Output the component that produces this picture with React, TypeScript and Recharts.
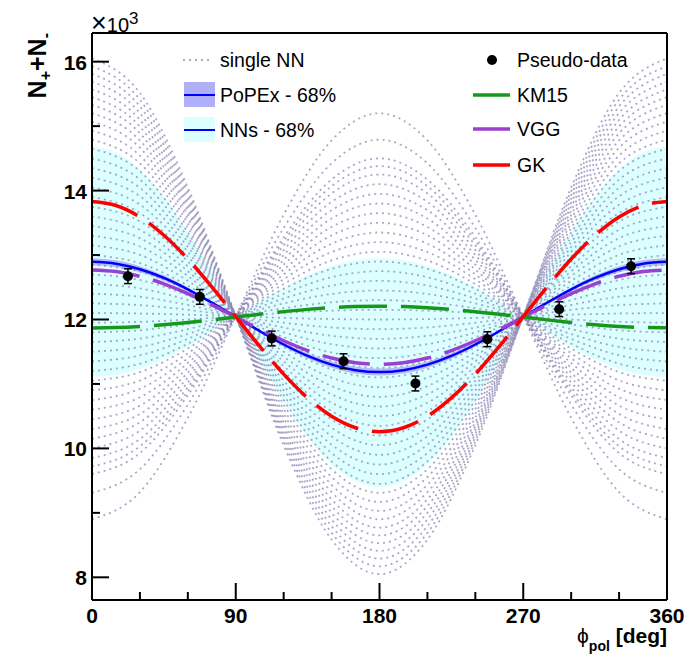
import React from 'react';
import {
  ComposedChart,
  Line,
  Area,
  Scatter,
  ErrorBar,
  XAxis,
  YAxis,
  ReferenceLine,
} from 'recharts';

const FONT = '"Liberation Sans", Arial, Helvetica, sans-serif';

// angle grids
const phiFine = [0, 15, 30, 45, 60, 75, 90, 105, 120, 135, 150, 165, 180, 195, 210, 225, 240, 255, 270, 285, 300, 315, 330, 345, 360];
const phiCoarse = [0, 30, 60, 90, 120, 150, 180, 210, 240, 270, 300, 330, 360];

const xTicks = [0, 30, 60, 90, 120, 150, 180, 210, 240, 270, 300, 330, 360];
const yTicks = [8000, 9000, 10000, 11000, 12000, 13000, 14000, 15000, 16000];
const Y_MIN = 7648;
const Y_MAX = 16445;

// model curves, values on phiFine
const gkValues = [13830, 13769, 13591, 13307, 12938, 12507, 12045, 11583, 11152, 10783, 10499, 10321, 10260, 10321, 10499, 10783, 11152, 11583, 12045, 12507, 12938, 13307, 13591, 13769, 13830];
const vggValues = [12768, 12743, 12670, 12554, 12402, 12226, 12036, 11846, 11670, 11518, 11402, 11329, 11304, 11329, 11402, 11518, 11670, 11846, 12036, 12226, 12402, 12554, 12670, 12743, 12768];
const km15Values = [11870, 11876, 11893, 11919, 11954, 11994, 12038, 12082, 12122, 12157, 12183, 12200, 12206, 12200, 12183, 12157, 12122, 12082, 12038, 11994, 11954, 11919, 11893, 11876, 11870];
const popexValues = [12895, 12866, 12780, 12645, 12468, 12261, 12040, 11819, 11612, 11435, 11300, 11214, 11185, 11214, 11300, 11435, 11612, 11819, 12040, 12261, 12468, 12645, 12780, 12866, 12895];
const popexErr = [55, 53, 48, 40, 30, 18, 8, 18, 30, 40, 48, 53, 55, 53, 48, 40, 30, 18, 8, 18, 30, 40, 48, 53, 55];

// NNs 68% band
const nnBandHigh = [14680, 14591, 14328, 13909, 13365, 12731, 12050, 12283, 12500, 12686, 12829, 12919, 12950, 12919, 12829, 12686, 12500, 12283, 12050, 12731, 13365, 13909, 14328, 14591, 14680];
const nnBandLow = [11110, 11139, 11233, 11383, 11578, 11806, 12050, 11364, 10725, 10176, 9755, 9490, 9400, 9490, 9755, 10176, 10725, 11364, 12050, 11806, 11578, 11383, 11233, 11139, 11110];

// single NN replicas, values on phiCoarse
const nnCurves: number[][] = [
  [16050, 15514, 14050, 12050, 10050, 8586, 8050, 8586, 10050, 12050, 14050, 15514, 16050],
  [15930, 15410, 13990, 12050, 10110, 8690, 8170, 8690, 10110, 12050, 13990, 15410, 15930],
  [15810, 15306, 13930, 12050, 10170, 8794, 8290, 8794, 10170, 12050, 13930, 15306, 15810],
  [15690, 15202, 13870, 12050, 10230, 8898, 8410, 8898, 10230, 12050, 13870, 15202, 15690],
  [15570, 15098, 13810, 12050, 10290, 9002, 8530, 9002, 10290, 12050, 13810, 15098, 15570],
  [15450, 14994, 13750, 12050, 10350, 9106, 8650, 9106, 10350, 12050, 13750, 14994, 15450],
  [15330, 14890, 13690, 12050, 10410, 9210, 8770, 9210, 10410, 12050, 13690, 14890, 15330],
  [15200, 14778, 13625, 12050, 10475, 9322, 8900, 9322, 10475, 12050, 13625, 14778, 15200],
  [15070, 14665, 13560, 12050, 10540, 9435, 9030, 9435, 10540, 12050, 13560, 14665, 15070],
  [14930, 14544, 13490, 12050, 10610, 9556, 9170, 9556, 10610, 12050, 13490, 14544, 14930],
  [14790, 14423, 13420, 12050, 10680, 9677, 9310, 9677, 10680, 12050, 13420, 14423, 14790],
  [14650, 14302, 13350, 12050, 10750, 9798, 9450, 9798, 10750, 12050, 13350, 14302, 14650],
  [14500, 14172, 13275, 12050, 10825, 9928, 9600, 9928, 10825, 12050, 13275, 14172, 14500],
  [14350, 14042, 13200, 12050, 10900, 10058, 9750, 10058, 10900, 12050, 13200, 14042, 14350],
  [14200, 13912, 13125, 12050, 10975, 10188, 9900, 10188, 10975, 12050, 13125, 13912, 14200],
  [14050, 13782, 13050, 12050, 11050, 10318, 10050, 10318, 11050, 12050, 13050, 13782, 14050],
  [13900, 13652, 12975, 12050, 11125, 10448, 10200, 10448, 11125, 12050, 12975, 13652, 13900],
  [13750, 13522, 12900, 12050, 11200, 10578, 10350, 10578, 11200, 12050, 12900, 13522, 13750],
  [13600, 13392, 12825, 12050, 11275, 10708, 10500, 10708, 11275, 12050, 12825, 13392, 13600],
  [13450, 13262, 12750, 12050, 11350, 10838, 10650, 10838, 11350, 12050, 12750, 13262, 13450],
  [13300, 13133, 12675, 12050, 11425, 10967, 10800, 10967, 11425, 12050, 12675, 13133, 13300],
  [13150, 13003, 12600, 12050, 11500, 11097, 10950, 11097, 11500, 12050, 12600, 13003, 13150],
  [13000, 12873, 12525, 12050, 11575, 11227, 11100, 11227, 11575, 12050, 12525, 12873, 13000],
  [12850, 12743, 12450, 12050, 11650, 11357, 11250, 11357, 11650, 12050, 12450, 12743, 12850],
  [12700, 12613, 12375, 12050, 11725, 11487, 11400, 11487, 11725, 12050, 12375, 12613, 12700],
  [12550, 12483, 12300, 12050, 11800, 11617, 11550, 11617, 11800, 12050, 12300, 12483, 12550],
  [12400, 12353, 12225, 12050, 11875, 11747, 11700, 11747, 11875, 12050, 12225, 12353, 12400],
  [12250, 12223, 12150, 12050, 11950, 11877, 11850, 11877, 11950, 12050, 12150, 12223, 12250],
  [12100, 12093, 12075, 12050, 12025, 12007, 12000, 12007, 12025, 12050, 12075, 12093, 12100],
  [11950, 11963, 12000, 12050, 12100, 12137, 12150, 12137, 12100, 12050, 12000, 11963, 11950],
  [11800, 11833, 11925, 12050, 12175, 12267, 12300, 12267, 12175, 12050, 11925, 11833, 11800],
  [11650, 11704, 11850, 12050, 12250, 12396, 12450, 12396, 12250, 12050, 11850, 11704, 11650],
  [11500, 11574, 11775, 12050, 12325, 12526, 12600, 12526, 12325, 12050, 11775, 11574, 11500],
  [11350, 11444, 11700, 12050, 12400, 12656, 12750, 12656, 12400, 12050, 11700, 11444, 11350],
  [11200, 11314, 11625, 12050, 12475, 12786, 12900, 12786, 12475, 12050, 11625, 11314, 11200],
  [11050, 11184, 11550, 12050, 12550, 12916, 13050, 12916, 12550, 12050, 11550, 11184, 11050],
  [10900, 11054, 11475, 12050, 12625, 13046, 13200, 13046, 12625, 12050, 11475, 11054, 10900],
  [10750, 10924, 11400, 12050, 12700, 13176, 13350, 13176, 12700, 12050, 11400, 10924, 10750],
  [10600, 10794, 11325, 12050, 12775, 13306, 13500, 13306, 12775, 12050, 11325, 10794, 10600],
  [10450, 10664, 11250, 12050, 12850, 13436, 13650, 13436, 12850, 12050, 11250, 10664, 10450],
  [10300, 10534, 11175, 12050, 12925, 13566, 13800, 13566, 12925, 12050, 11175, 10534, 10300],
  [10150, 10405, 11100, 12050, 13000, 13695, 13950, 13695, 13000, 12050, 11100, 10405, 10150],
  [10000, 10275, 11025, 12050, 13075, 13825, 14100, 13825, 13075, 12050, 11025, 10275, 10000],
  [9850, 10145, 10950, 12050, 13150, 13955, 14250, 13955, 13150, 12050, 10950, 10145, 9850],
  [9720, 10032, 10885, 12050, 13215, 14068, 14380, 14068, 13215, 12050, 10885, 10032, 9720],
  [9600, 9928, 10825, 12050, 13275, 14172, 14500, 14172, 13275, 12050, 10825, 9928, 9600],
  [9310, 9677, 10680, 12050, 13420, 14423, 14790, 14423, 13420, 12050, 10680, 9677, 9310],
  [8900, 9322, 10475, 12050, 13625, 14778, 15200, 14778, 13625, 12050, 10475, 9322, 8900],
];

// pseudo-data
const pseudoPhi = [22.5, 67.5, 112.5, 157.5, 202.5, 247.5, 292.5, 337.5];
const pseudoN = [12672, 12351, 11705, 11353, 11007, 11694, 12160, 12827];
const pseudoErr = [115, 115, 115, 115, 115, 115, 115, 115];

const NN_COLOR = '#8f89b5';
const GREEN = '#16991a';
const VIOLET = '#9a3fcf';
const RED = '#ff0000';
const BLUE = '#0000ff';

const fine = (vals: number[]) => phiFine.map((phi, i) => ({ phi, n: vals[i] }));
const gkData = fine(gkValues);
const vggData = fine(vggValues);
const km15Data = fine(km15Values);
const popexData = fine(popexValues);
const popexBand = phiFine.map((phi, i) => ({ phi, range: [popexValues[i] - popexErr[i], popexValues[i] + popexErr[i]] }));
const nnBand = phiFine.map((phi, i) => ({ phi, range: [nnBandLow[i], nnBandHigh[i]] }));
const nnData = nnCurves.map((row) => phiCoarse.map((phi, i) => ({ phi, n: row[i] })));
const pseudoData = pseudoPhi.map((phi, i) => ({ phi, n: pseudoN[i], err: pseudoErr[i] }));

function XTick(props: any) {
  const { x, y, payload } = props;
  const major = payload.value % 90 === 0;
  return (
    <g>
      <line x1={x} x2={x} y1={y} y2={y - (major ? 17 : 8)} stroke="#000" strokeWidth={2} />
      {major && (
        <text x={x} y={y + 23} textAnchor="middle" fontFamily={FONT} fontWeight="bold" fontSize={21} fill="#000">
          {payload.value}
        </text>
      )}
    </g>
  );
}

function YTick(props: any) {
  const { x, y, payload } = props;
  const major = payload.value % 2000 === 0;
  return (
    <g>
      <line x1={x} x2={x + (major ? 17 : 8)} y1={y} y2={y} stroke="#000" strokeWidth={2} />
      {major && (
        <text x={x - 5} y={y + 8} textAnchor="end" fontFamily={FONT} fontWeight="bold" fontSize={21} fill="#000">
          {payload.value / 1000}
        </text>
      )}
    </g>
  );
}

const dot = (p: any) => <circle cx={p.cx} cy={p.cy} r={5} fill="#000" />;

export default function App() {
  const legendText = { fontFamily: FONT, fontSize: 19.5, fill: '#000' };
  return (
    <div style={{ position: 'absolute', left: 0, top: 0, width: 700, height: 657, background: '#fff' }}>
      <ComposedChart width={700} height={657} margin={{ top: 33, right: 33, bottom: 0, left: 12 }}>
        <XAxis
          type="number"
          dataKey="phi"
          domain={[0, 360]}
          ticks={xTicks}
          interval={0}
          height={57}
          tickSize={0}
          tickMargin={0}
          tick={<XTick />}
          axisLine={{ stroke: '#000', strokeWidth: 2 }}
        />
        <YAxis
          type="number"
          domain={[Y_MIN, Y_MAX]}
          ticks={yTicks}
          interval={0}
          width={80}
          tickSize={0}
          tickMargin={0}
          tick={<YTick />}
          axisLine={{ stroke: '#000', strokeWidth: 2 }}
          allowDataOverflow
        />
        <Area
          data={nnBand}
          dataKey="range"
          type="monotone"
          fill="#dcffff"
          fillOpacity={1}
          stroke="none"
          isAnimationActive={false}
        />
        {nnData.map((d, k) => (
          <Line
            key={`nn-${k}`}
            data={d}
            dataKey="n"
            type="monotone"
            stroke={NN_COLOR}
            strokeOpacity={0.75}
            strokeWidth={1.8}
            strokeDasharray="2 4"
            dot={false}
            activeDot={false}
            isAnimationActive={false}
          />
        ))}
        <Area
          data={popexBand}
          dataKey="range"
          type="monotone"
          fill="#aaaaf5"
          fillOpacity={0.8}
          stroke="none"
          isAnimationActive={false}
        />
        <Line data={popexData} dataKey="n" type="monotone" stroke={BLUE} strokeWidth={2.5} dot={false} activeDot={false} isAnimationActive={false} />
        <Line data={vggData} dataKey="n" type="monotone" stroke={VIOLET} strokeWidth={3.5} strokeDasharray="48 14" dot={false} activeDot={false} isAnimationActive={false} />
        <Line data={km15Data} dataKey="n" type="monotone" stroke={GREEN} strokeWidth={3.5} strokeDasharray="48 14" dot={false} activeDot={false} isAnimationActive={false} />
        <Line data={gkData} dataKey="n" type="monotone" stroke={RED} strokeWidth={3.5} strokeDasharray="48 14" dot={false} activeDot={false} isAnimationActive={false} />
        <Scatter data={pseudoData} dataKey="n" shape={dot} isAnimationActive={false}>
          <ErrorBar dataKey="err" direction="y" width={4} stroke="#000" strokeWidth={1.5} isAnimationActive={false} />
        </Scatter>
        <ReferenceLine y={Y_MAX} stroke="#000" strokeWidth={2} />
        <ReferenceLine x={360} stroke="#000" strokeWidth={2} />
      </ComposedChart>

      <svg width={700} height={657} style={{ position: 'absolute', left: 0, top: 0, pointerEvents: 'none' }}>
        <text x={91} y={32} fontFamily={FONT} fontSize={20} fill="#000">
          <tspan fontSize={27}>×</tspan>10<tspan fontSize={17} dy={-8}>3</tspan>
        </text>
        <text transform="translate(46,33) rotate(-90)" textAnchor="end" fontFamily={FONT} fontWeight="bold" fontSize={25} fill="#000">
          N<tspan fontSize={16} dy={5}>+</tspan>
          <tspan dy={-5}>+N</tspan>
          <tspan fontSize={16} dy={5}>-</tspan>
        </text>
        <text x={667} y={643} textAnchor="end" fontFamily={FONT} fontWeight="bold" fontSize={21} fill="#000">
          <tspan fontWeight="normal">ϕ</tspan>
          <tspan fontSize={14} dy={8}>pol</tspan>
          <tspan dy={-8}> [deg]</tspan>
        </text>

        {/* legend, left column */}
        <line x1={183} x2={213} y1={60} y2={60} stroke={NN_COLOR} strokeOpacity={0.75} strokeWidth={1.8} strokeDasharray="2 4" />
        <text x={220} y={66.5} {...legendText}>single NN</text>
        <rect x={184} y={82} width={31} height={25} fill="#b0b0f8" />
        <line x1={184} x2={215} y1={95} y2={95} stroke={BLUE} strokeWidth={2} />
        <text x={220} y={102} {...legendText}>PoPEx - 68%</text>
        <rect x={184} y={117} width={31} height={25} fill="#dcffff" />
        <line x1={184} x2={215} y1={130} y2={130} stroke={BLUE} strokeWidth={2} />
        <text x={220} y={136.5} {...legendText}>NNs - 68%</text>

        {/* legend, right column */}
        <circle cx={492} cy={60} r={5} fill="#000" />
        <text x={517} y={66.5} {...legendText}>Pseudo-data</text>
        <line x1={473} x2={510} y1={95} y2={95} stroke={GREEN} strokeWidth={3.5} />
        <text x={517} y={101.5} {...legendText}>KM15</text>
        <line x1={473} x2={510} y1={129} y2={129} stroke={VIOLET} strokeWidth={3.5} />
        <text x={517} y={135.5} {...legendText}>VGG</text>
        <line x1={473} x2={510} y1={165} y2={165} stroke={RED} strokeWidth={3.5} />
        <text x={517} y={171.5} {...legendText}>GK</text>
      </svg>
    </div>
  );
}
